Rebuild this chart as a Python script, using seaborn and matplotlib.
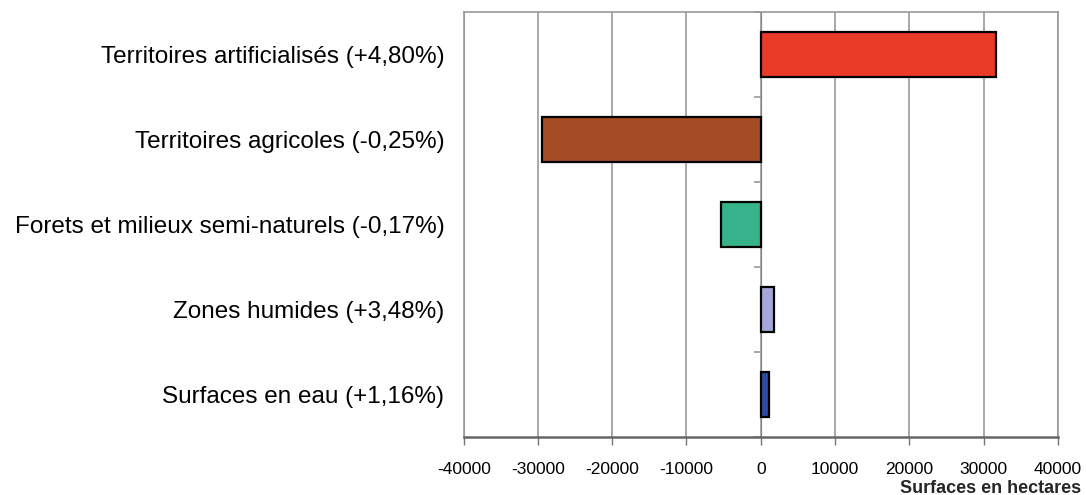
import matplotlib
matplotlib.use('Agg')
import matplotlib.pyplot as plt
import seaborn as sns
import pandas as pd
import numpy as np

categories = ['Territoires artificialisés (+4,80%)',
              'Territoires agricoles (-0,25%)',
              'Forets et milieux semi-naturels (-0,17%)',
              'Zones humides (+3,48%)',
              'Surfaces en eau (+1,16%)']
surfaces = [31700, -29500, -5300, 1750, 1100]
colors = ['#EA3A28', '#A54C24', '#36B38A', '#A3A6D8', '#2F4A9F']
xticks = [-40000, -30000, -20000, -10000, 0, 10000, 20000, 30000, 40000]

df = pd.DataFrame({'cat': categories, 'val': surfaces})

sns.set_style('white')
plt.rcParams['font.family'] = ['Liberation Sans', 'DejaVu Sans']
plt.rcParams['text.color'] = 'black'
plt.rcParams['xtick.labelcolor'] = 'black'
plt.rcParams['ytick.labelcolor'] = 'black'

fig, ax = plt.subplots(figsize=(10.86, 4.95), dpi=100)
fig.subplots_adjust(left=0.427, right=0.974, top=0.976, bottom=0.117)

sns.barplot(data=df, x='val', y='cat', hue='cat', palette=colors, orient='h',
            saturation=1, width=0.53, edgecolor='black', linewidth=1.6,
            legend=False, ax=ax, zorder=3)

ax.set_xlim(-40000, 40000)
ax.set_ylim(4.5, -0.5)
ax.set_xticks(xticks)
ax.set_xticklabels([str(v) for v in xticks], fontsize=12.5)
ax.grid(axis='x', color='#999999', linewidth=1.2, zorder=0)
ax.grid(axis='y', visible=False)

ax.set_ylabel('')
ax.tick_params(axis='y', length=0, pad=14, labelsize=17.5)
ax.tick_params(axis='x', length=6, width=1, color='#777777', direction='out', pad=12, bottom=True)

for side in ['top', 'right', 'left']:
    ax.spines[side].set_color('#999999')
    ax.spines[side].set_linewidth(1.2)
ax.spines['bottom'].set_color('#666666')
ax.spines['bottom'].set_linewidth(1.8)

# category axis crossing at zero
sec = ax.secondary_yaxis(0.5)
sec.set_yticks(np.arange(len(categories) + 1) - 0.5)
sec.set_yticklabels([])
sec.tick_params(length=5, color='#999999', width=1.2, direction='out', left=True, right=False)
sec.yaxis.set_ticks_position('left')
sec.spines['left'].set_color('#888888')
sec.spines['left'].set_linewidth(1.6)

ax.set_xlabel('Surfaces en hectares', fontsize=13, fontweight='bold')
ax.xaxis.set_label_coords(1.04, -0.1)
ax.xaxis.label.set_horizontalalignment('right')
ax.xaxis.label.set_verticalalignment('top')

fig.savefig('out.png', dpi=100)
